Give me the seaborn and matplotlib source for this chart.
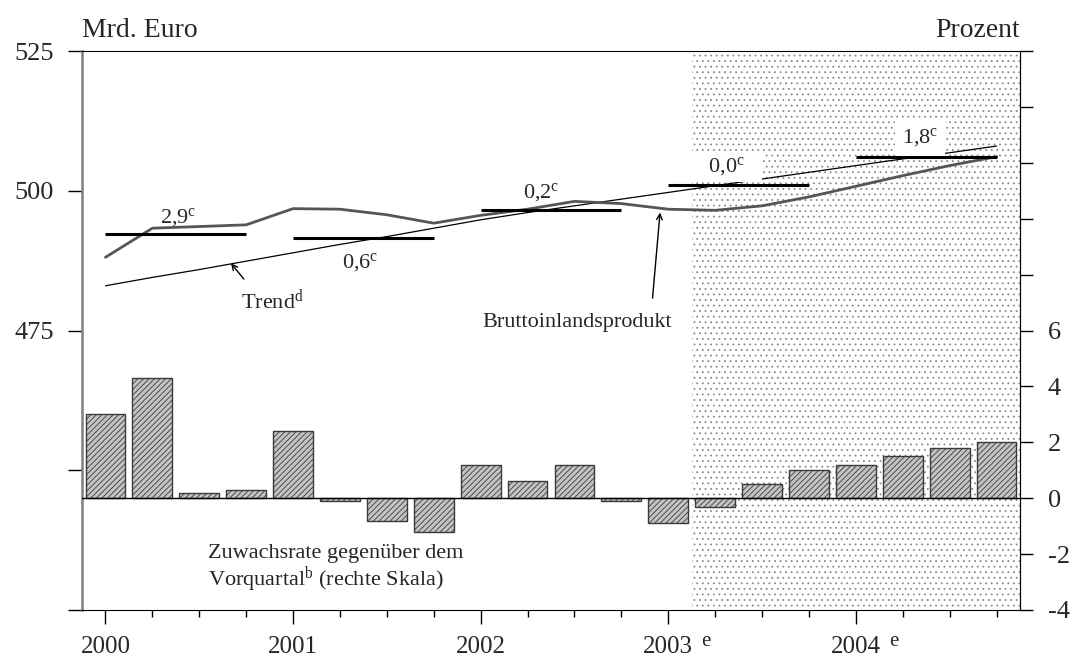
import matplotlib
matplotlib.use("Agg")
import matplotlib.pyplot as plt
import seaborn as sns

# quarterly data 2000Q1 - 2004Q4
quarters = list(range(20))
year_ticks = [0, 4, 8, 12, 16]
year_labels = ["2000", "2001", "2002", "2003", "2004"]
forecast_years = [12, 16]

bip = [488.1, 493.3, 493.6, 493.9, 496.8, 496.7, 495.7, 494.2, 495.6, 496.7,
       498.1, 497.7, 496.7, 496.5, 497.3, 498.9, 500.8, 502.7, 504.5, 506.1]
trend = [483.0, 484.5, 485.9, 487.4, 488.9, 490.4, 491.8, 493.3, 494.8, 496.1,
         497.3, 498.5, 499.7, 500.9, 502.1, 503.3, 504.5, 505.7, 506.8, 508.0]
growth = [3.0, 4.3, 0.2, 0.3, 2.4, -0.1, -0.8, -1.2, 1.2, 0.6,
          1.2, -0.1, -0.9, -0.3, 0.5, 1.0, 1.2, 1.5, 1.8, 2.0]

# annual averages and annual growth rates
year_start = [0, 4, 8, 12, 16]
year_end = [3, 7, 11, 15, 19]
year_avg = [492.3, 491.5, 496.5, 501.1, 506.0]
year_rate = ["2,9", "0,6", "0,2", "0,0", "1,8"]

sns.set_style("ticks")
plt.rcParams['font.family'] = ['Liberation Serif', 'DejaVu Serif']
plt.rcParams['mathtext.fontset'] = 'custom'
plt.rcParams['mathtext.rm'] = 'Liberation Serif'
plt.rcParams['mathtext.it'] = 'Liberation Serif:italic'
plt.rcParams['hatch.linewidth'] = 0.6

fig = plt.figure(figsize=(10.74, 6.61), dpi=100)
ax = fig.add_axes([82/1074, 51/661, 938/1074, 559/661])
ax2 = ax.twinx()

# forecast period shading
ax.axvspan(12.5, 19.5, facecolor='white', edgecolor='#8a8a8a', hatch='...',
           linewidth=0, zorder=0)

sns.lineplot(x=quarters, y=trend, ax=ax, color='black', linewidth=0.9)
sns.lineplot(x=quarters, y=bip, ax=ax, color='#555555', linewidth=2.0)
ax.hlines(year_avg, year_start, year_end, color='black', linewidth=2.2)

sns.barplot(x=quarters, y=growth, native_scale=True, width=0.85, ax=ax2,
            color='#c4c4c4', saturation=1, edgecolor='#3a3a3a', linewidth=1,
            hatch='//////', errorbar=None)
ax2.axhline(0, color='black', linewidth=1)

ax.set_xlim(-0.5, 19.5)
ax.set_ylim(425, 525)
ax2.set_ylim(-4, 16)
ax.set_xlabel("")
ax.set_ylabel("")
ax2.set_xlabel("")
ax2.set_ylabel("")

ax.set_yticks([425, 450, 475, 500, 525])
ax.set_yticklabels(["", "", "475", "500", "525"])
ax2.set_yticks(list(range(-4, 17, 2)))
ax2.set_yticklabels(["-4", "-2", "0", "2", "4", "6", "", "", "", "", ""])
ax.set_xticks(year_ticks)
ax.set_xticklabels(year_labels)
ax.set_xticks(quarters, minor=True)

ax.tick_params(axis='y', length=10, width=1, color='black', pad=10, labelsize=19)
ax2.tick_params(axis='y', length=9, width=1, color='black', pad=11, labelsize=19)
ax.tick_params(axis='x', which='major', length=10, width=1, color='black',
               pad=9, labelsize=18)
ax.tick_params(axis='x', which='minor', length=5, width=1, color='black')

for s in ['top', 'bottom']:
    ax.spines[s].set_color('black')
ax.spines['left'].set_color('#808080')
ax.spines['left'].set_linewidth(1.8)
ax2.spines['left'].set_visible(False)
ax2.spines['right'].set_color('black')
ax2.spines['top'].set_visible(False)
ax2.spines['bottom'].set_visible(False)

for idx in forecast_years:
    ax.annotate("e", xy=(idx, 0), xycoords=('data', 'axes fraction'),
                xytext=(24, -26), textcoords='offset points', fontsize=15,
                ha='left', va='baseline')

# annual growth labels
lbl_x = [1.55, 5.44, 9.29, 13.21, 17.37]
lbl_y = [494.3, 486.2, 498.7, 503.4, 508.6]
for i, (r, x, y) in enumerate(zip(year_rate, lbl_x, lbl_y)):
    if i == 3:
        ax.text(x, y, "   " + r + "$^\\mathrm{c}$   ", fontsize=16, ha='center',
                va='baseline', bbox=dict(facecolor='white', edgecolor='none', pad=3))
    elif i == 4:
        ax.text(x, y, r + "$^\\mathrm{c}$", fontsize=16, ha='center', va='baseline',
                bbox=dict(facecolor='white', edgecolor='none', pad=5))
    else:
        ax.text(x, y, r + "$^\\mathrm{c}$", fontsize=16, ha='center', va='baseline')

ax.text(3.55, 478.9, "Trend$^\\mathrm{d}$", fontsize=16, ha='center', va='baseline')
ax.annotate("", xy=(2.64, 487.4), xytext=(2.99, 483.8),
            arrowprops=dict(arrowstyle='->', color='black', lw=1))
ax.text(10.06, 475.7, "Bruttoinlandsprodukt", fontsize=16, ha='center', va='baseline')
ax.annotate("", xy=(11.83, 496.6), xytext=(11.66, 480.3),
            arrowprops=dict(arrowstyle='->', color='black', lw=1))

ax2.text(2.19, -3.13, "Zuwachsrate gegenüber dem\nVorquartal$^\\mathrm{b}$ (rechte Skala)",
         fontsize=16, ha='left', va='baseline', linespacing=1.1)

fig.text(82/1074, 1 - 37/661, "Mrd. Euro", fontsize=20, ha='left', va='baseline')
fig.text(1020/1074, 1 - 37/661, "Prozent", fontsize=20, ha='right', va='baseline')

fig.savefig("out.png", dpi=100)
